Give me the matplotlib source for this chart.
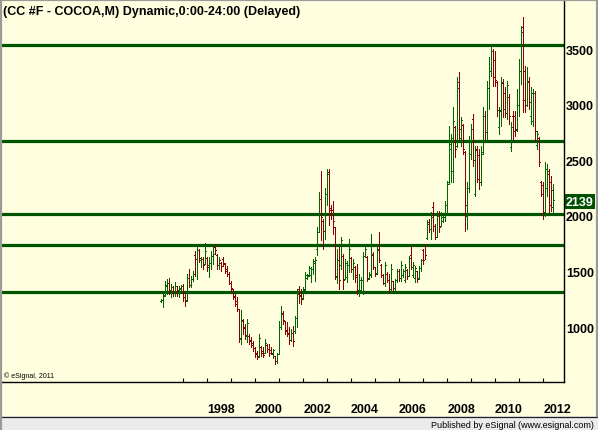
import matplotlib
matplotlib.use('Agg')
import matplotlib.pyplot as plt
from matplotlib.patches import Rectangle
from matplotlib.lines import Line2D
import numpy as np

# ---------------- data (monthly OHLC) ----------------
opens = [1232, 1240, 1290, 1370, 1400, 1330, 1360, 1320, 1370, 1330, 1345, 1365, 1270, 1240, 1440, 1380,
         1430, 1650, 1610, 1690, 1600, 1610, 1570, 1620, 1540, 1580, 1640, 1720, 1650, 1560, 1580, 1610,
         1570, 1520, 1480, 1400, 1340, 1280, 1230, 1160, 890, 1060, 1000, 920, 920, 880, 860, 810,
         770, 740, 820, 780, 770, 840, 800, 790, 760, 740, 690, 760, 1000, 1130, 1050, 970, 950, 880,
         950, 960, 1080, 1340, 1290, 1260, 1340, 1440, 1470, 1470, 1520, 1580, 1700, 1850, 2150, 1950,
         1860, 2200, 2390, 2070, 2050, 1900, 1450, 1600, 1560, 1640, 1430, 1450, 1560, 1620, 1520, 1540,
         1470, 1330, 1330, 1420, 1640, 1630, 1440, 1470, 1650, 1540, 1490, 1700, 1560, 1470, 1400, 1480,
         1420, 1340, 1410, 1350, 1420, 1500, 1440, 1470, 1420, 1510, 1460, 1650, 1470, 1440, 1500, 1440,
         1530, 1690, 1740, 1800, 1940, 1880, 2080, 1910, 1810, 2000, 1910, 1950, 1990, 2100, 2300, 2600,
         2400, 2800, 2630, 3200, 2700, 2820, 2570, 2000, 2250, 2560, 2870, 2200, 2600, 2550, 2300, 2570,
         2900, 2750, 3150, 3300, 3480, 3400, 3200, 2800, 2950, 3190, 3100, 2920, 3070, 2620, 2900, 2900,
         2780, 3000, 3300, 3700, 3300, 3000, 3200, 2900, 2850, 3100, 2640, 2700, 2300, 2280, 2030, 2250,
         2380, 2300, 2080]
highs = [1251, 1296, 1416, 1431, 1440, 1386, 1371, 1401, 1371, 1371, 1380, 1386, 1311, 1476, 1521, 1461,
         1506, 1686, 1731, 1701, 1626, 1626, 1752, 1632, 1626, 1686, 1716, 1746, 1656, 1626, 1581, 1626,
         1572, 1551, 1491, 1416, 1341, 1296, 1266, 1161, 1152, 1071, 1026, 1071, 936, 906, 876, 816,
         786, 936, 831, 816, 891, 846, 846, 816, 800, 741, 770, 1056, 1191, 1146, 1056, 1041, 996, 981,
         1010, 1100, 1340, 1370, 1341, 1356, 1491, 1476, 1551, 1536, 1611, 1626, 1900, 2210, 2406, 1970,
         2250, 2421, 2421, 2100, 2130, 1900, 1700, 1716, 1806, 1656, 1611, 1596, 1791, 1626, 1611, 1551,
         1566, 1476, 1446, 1671, 1731, 1641, 1491, 1836, 1671, 1541, 1731, 1851, 1566, 1476, 1581, 1491,
         1476, 1566, 1416, 1431, 1521, 1521, 1596, 1521, 1566, 1521, 1641, 1731, 1581, 1551, 1506, 1551,
         1611, 1701, 1746, 1965, 1970, 2030, 2120, 1925, 2045, 2045, 2030, 2000, 2135, 2315, 2810, 2735,
         2975, 2810, 3245, 3290, 2885, 2825, 2585, 2300, 2720, 2825, 2915, 2630, 2630, 2600, 2630, 2975,
         2945, 3215, 3425, 3515, 3500, 3485, 3215, 2975, 3245, 3230, 3155, 3215, 3095, 2840, 2945, 2945,
         3140, 3410, 3710, 3785, 3350, 3335, 3245, 3155, 3140, 3125, 2765, 2705, 2315, 2300, 2480, 2465,
         2420, 2360, 2285]
lows = [1227, 1182, 1281, 1296, 1296, 1266, 1281, 1281, 1281, 1266, 1311, 1236, 1191, 1236, 1356, 1356,
        1416, 1461, 1431, 1581, 1536, 1521, 1566, 1506, 1452, 1521, 1566, 1656, 1521, 1521, 1506, 1551,
        1482, 1461, 1386, 1326, 1251, 1191, 1146, 861, 846, 936, 891, 861, 846, 816, 786, 726,
        711, 726, 741, 726, 771, 771, 741, 756, 725, 670, 680, 756, 981, 1026, 936, 921, 846, 876,
        830, 950, 1000, 1220, 1206, 1250, 1330, 1431, 1461, 1401, 1476, 1416, 1650, 1850, 1780, 1700,
        1790, 2100, 1920, 1970, 1840, 1430, 1400, 1341, 1521, 1341, 1430, 1401, 1491, 1491, 1431, 1401,
        1296, 1281, 1311, 1296, 1626, 1416, 1431, 1446, 1521, 1461, 1480, 1581, 1446, 1386, 1371, 1401,
        1311, 1311, 1326, 1311, 1401, 1416, 1416, 1446, 1401, 1431, 1455, 1521, 1446, 1401, 1401, 1431,
        1506, 1566, 1611, 1790, 1850, 1790, 1865, 1790, 1805, 1850, 1910, 1940, 1955, 2030, 2290, 2300,
        2300, 2525, 2620, 2690, 2630, 2555, 1865, 1880, 2210, 2510, 2450, 2180, 2300, 2240, 2280, 2555,
        2690, 2690, 2960, 3260, 3170, 3170, 2900, 2735, 2810, 2885, 2885, 2870, 2825, 2585, 2690, 2720,
        2765, 2900, 3185, 2930, 2930, 2990, 2960, 2825, 2810, 2675, 2600, 2450, 2180, 1970, 2000, 2180,
        2030, 2045, 2030]
closes = [1245, 1280, 1380, 1400, 1330, 1360, 1320, 1370, 1330, 1350, 1365, 1270, 1230, 1440, 1380, 1430,
          1480, 1610, 1690, 1620, 1610, 1560, 1680, 1560, 1580, 1640, 1660, 1690, 1560, 1600, 1550, 1580,
          1500, 1480, 1400, 1350, 1270, 1210, 1160, 900, 1050, 990, 930, 1040, 870, 840, 810, 760,
          730, 900, 770, 750, 860, 800, 770, 770, 790, 690, 760, 1000, 1120, 1060, 960, 940, 880, 950,
          870, 1080, 1300, 1280, 1250, 1330, 1470, 1460, 1530, 1520, 1590, 1600, 1850, 2150, 1990, 1860,
          2200, 2380, 2050, 2010, 1950, 1460, 1600, 1420, 1780, 1420, 1580, 1560, 1700, 1520, 1580, 1450,
          1330, 1420, 1420, 1640, 1700, 1430, 1480, 1660, 1540, 1480, 1690, 1600, 1470, 1400, 1560, 1420,
          1340, 1520, 1350, 1420, 1500, 1440, 1560, 1500, 1540, 1460, 1620, 1540, 1560, 1530, 1430, 1530,
          1600, 1600, 1650, 1930, 1880, 1990, 1910, 1810, 2000, 1900, 1990, 1990, 2100, 2290, 2650, 2700,
          2850, 2600, 3150, 2780, 2860, 2600, 2100, 2250, 2680, 2780, 2500, 2590, 2330, 2300, 2560, 2900,
          2750, 3150, 3300, 3480, 3250, 3220, 2950, 2940, 3200, 2960, 2920, 3180, 2900, 2800, 2760, 2770,
          3000, 3300, 3650, 3040, 3000, 3210, 3020, 3100, 3100, 2760, 2740, 2480, 2200, 2030, 2420, 2400,
          2100, 2230, 2139]

level_lines = [3540, 2675, 2020, 1740, 1312]
price_ticks = [1000, 1500, 2000, 2500, 3000, 3500]
year_labels = ['1998', '2000', '2002', '2004', '2006', '2008', '2010', '2012']
first_bar_year, first_bar_month = 1996, 2    # first bar = Feb 1996
tick_years = list(range(1997, 2013))
title = '(CC #F - COCOA,M) Dynamic,0:00-24:00 (Delayed)'

assert len(opens) == len(highs) == len(lows) == len(closes)

# ---------------- figure ----------------
W, H = 598, 431
BG = '#FFFFE0'
GREEN = '#006400'
RED = '#8B0000'
LINE_GREEN = '#005400'
FONT = ['Liberation Sans', 'DejaVu Sans']

fig = plt.figure(figsize=(W / 100, H / 100), dpi=100, facecolor=BG)


def rect(x0, y0, x1, y1):
    return [x0 / W, 1 - y1 / H, (x1 - x0) / W, (y1 - y0) / H]


# footer band
fig.patches.append(Rectangle((0, 0), 1, 14 / H, transform=fig.transFigure,
                             facecolor='#EBEBEB', edgecolor='none', zorder=0))
fig.lines.append(Line2D([0, 1], [1 - 417.5 / H] * 2, transform=fig.transFigure,
                        color='#202020', lw=0.9))
# outer border
for (xs, ys) in [([0, 1], [1 - 0.8 / H] * 2), ([0.8 / W] * 2, [0, 1]), ([1 - 1.2 / W] * 2, [14 / H, 1])]:
    fig.lines.append(Line2D(xs, ys, transform=fig.transFigure, color='#9A9A9A', lw=1.6))

ax = fig.add_axes(rect(2, 2, 564, 383))
ax.set_facecolor(BG)

n = len(closes)
x = np.arange(n)
o = np.array(opens); h = np.array(highs); l = np.array(lows); c = np.array(closes)
colors = [GREEN if cc >= oo else RED for oo, cc in zip(o, c)]

# level lines
for lvl in level_lines:
    ax.axhline(lvl, color=LINE_GREEN, lw=2.3, zorder=1)

BW = 0.72  # one pixel
ax.vlines(x, l, h, colors=colors, lw=BW, antialiased=False, zorder=3)
ax.hlines(o, x - 0.6, x, colors=colors, lw=BW, antialiased=False, zorder=3)
ax.hlines(c, x, x + 0.6, colors=colors, lw=BW, antialiased=False, zorder=3)

# scales (pixel-matched)
ax.set_xlim(-79.5, 201.5)
ax.set_ylim(505.4, 3931.7)

for s in ['left', 'top']:
    ax.spines[s].set_visible(False)
ax.spines['right'].set_color('black')
ax.spines['bottom'].set_color('black')
ax.spines['right'].set_linewidth(1.0)
ax.spines['bottom'].set_linewidth(1.0)


def month_index(year, month):
    return (year - first_bar_year) * 12 + (month - first_bar_month)


ax.set_xticks([month_index(yy, 1) for yy in tick_years])
ax.tick_params(axis='x', direction='in', length=3, width=0.8, labelbottom=False, color='black')
ax.set_yticks([])

for yl in year_labels:
    pos = month_index(int(yl), 1) + 7
    ax.annotate(yl, xy=(pos, 0), xycoords=('data', 'axes fraction'), xytext=(0, -30),
                textcoords='offset pixels', ha='center', va='baseline', fontsize=9,
                fontweight='bold', family=FONT, annotation_clip=False)

for pt in price_ticks:
    ax.annotate(str(pt), xy=(1, pt), xycoords=('axes fraction', 'data'), xytext=(2, -4.5),
                textcoords='offset pixels', ha='left', va='baseline', fontsize=9,
                fontweight='bold', family=FONT, annotation_clip=False)

# last price box
ax.annotate(f'{closes[-1]}', xy=(1, closes[-1]), xycoords=('axes fraction', 'data'),
            xytext=(2, -4.5), textcoords='offset pixels', ha='left', va='baseline',
            fontsize=9, fontweight='bold', family=FONT, color='white', annotation_clip=False,
            bbox=dict(boxstyle='square,pad=0.12', fc='#005000', ec='none'), zorder=10)

fig.text(3 / W, 1 - 14.5 / H, title, ha='left', va='baseline', fontsize=9, fontweight='bold',
         family=FONT)
fig.text(4 / W, 1 - 378.5 / H, '\u00a9 eSignal, 2011', ha='left', va='baseline', fontsize=5,
         family=FONT)
fig.text(594 / W, 1 - 428 / H, 'Published by eSignal (www.esignal.com)', ha='right', va='baseline',
         fontsize=6.5, family=FONT)

fig.savefig('out.png', dpi=100, facecolor=BG)
